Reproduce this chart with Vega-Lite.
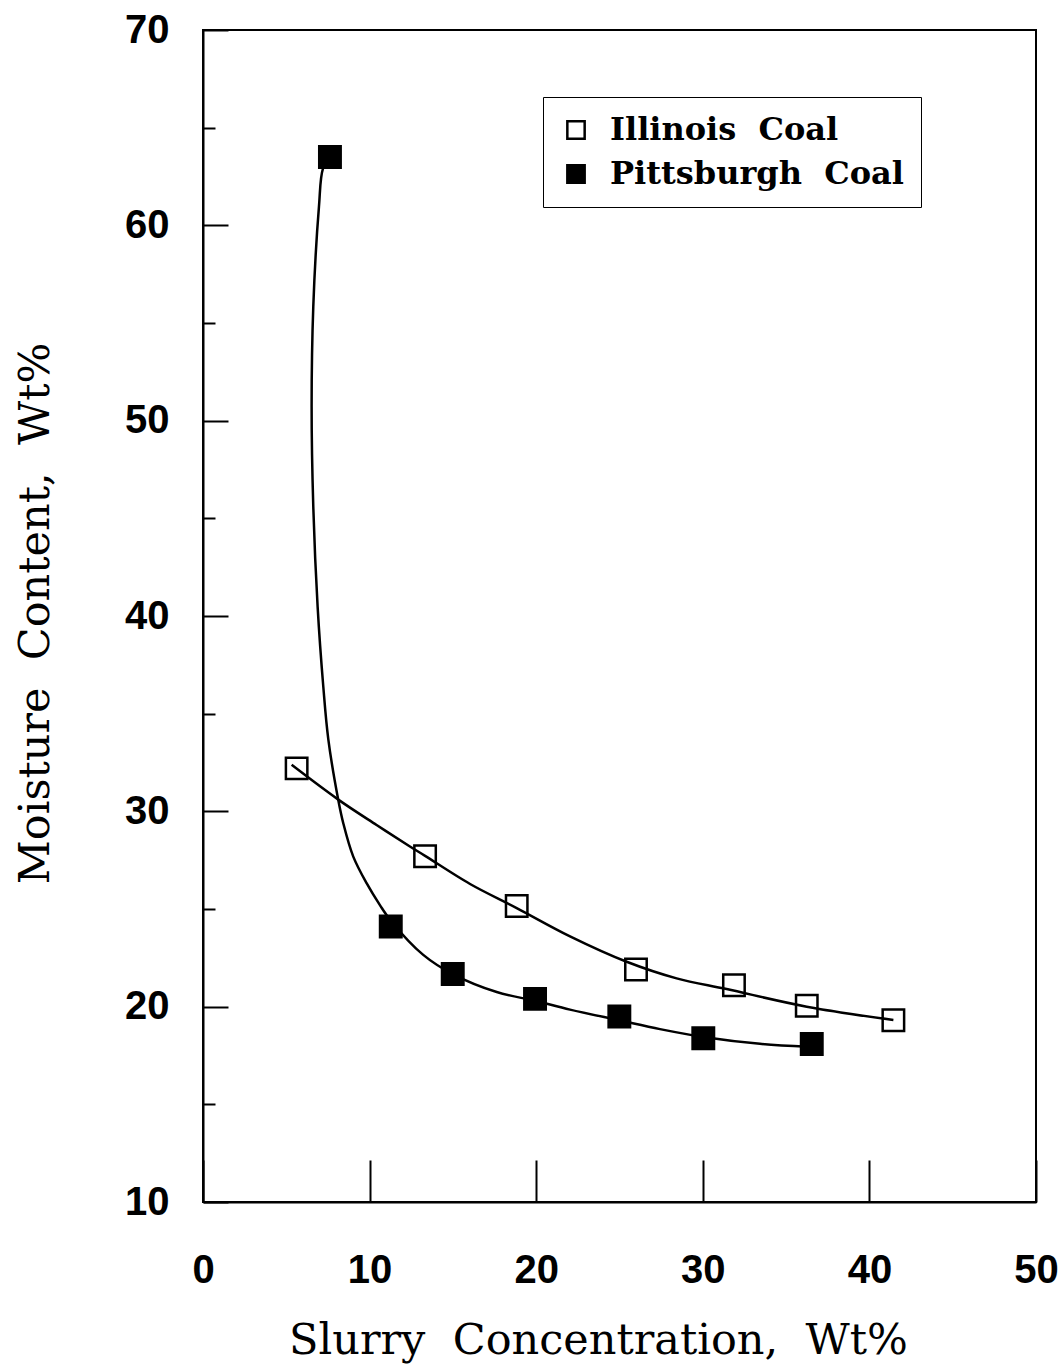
{
  "$schema": "https://vega.github.io/schema/vega-lite/v6.json",
  "width": 833,
  "height": 1172,
  "autosize": {"type": "none"},
  "padding": {"left": 203, "top": 30, "right": 27, "bottom": 162},
  "background": "white",
  "config": {
    "view": {"stroke": "black", "strokeWidth": 2},
    "axis": {
      "grid": false,
      "domainColor": "black",
      "domainWidth": 2,
      "tickColor": "black",
      "tickWidth": 2,
      "labelColor": "black",
      "titleColor": "black",
      "labelFont": "Liberation Sans",
      "labelFontWeight": "bold",
      "labelFontSize": 40,
      "titleFont": "DejaVu Serif",
      "titleFontWeight": "normal"
    }
  },
  "datasets": {
    "points": [
      {"x": 5.62, "y": 32.2, "series": "Illinois Coal"},
      {"x": 13.33, "y": 27.7, "series": "Illinois Coal"},
      {"x": 18.83, "y": 25.15, "series": "Illinois Coal"},
      {"x": 25.99, "y": 21.9, "series": "Illinois Coal"},
      {"x": 31.87, "y": 21.1, "series": "Illinois Coal"},
      {"x": 36.24, "y": 20.05, "series": "Illinois Coal"},
      {"x": 41.44, "y": 19.3, "series": "Illinois Coal"},
      {"x": 7.62, "y": 63.5, "series": "Pittsburgh Coal"},
      {"x": 11.27, "y": 24.1, "series": "Pittsburgh Coal"},
      {"x": 14.99, "y": 21.67, "series": "Pittsburgh Coal"},
      {"x": 19.93, "y": 20.4, "series": "Pittsburgh Coal"},
      {"x": 24.99, "y": 19.5, "series": "Pittsburgh Coal"},
      {"x": 30.03, "y": 18.38, "series": "Pittsburgh Coal"},
      {"x": 36.54, "y": 18.09, "series": "Pittsburgh Coal"}
    ],
    "curves": [
      {"series": "Illinois Coal", "i": 1, "x": 5.32, "y": 32.38},
      {"series": "Illinois Coal", "i": 2, "x": 8.12, "y": 30.6},
      {"series": "Illinois Coal", "i": 3, "x": 10.42, "y": 29.3},
      {"series": "Illinois Coal", "i": 4, "x": 12.42, "y": 28.2},
      {"series": "Illinois Coal", "i": 5, "x": 13.33, "y": 27.72},
      {"series": "Illinois Coal", "i": 6, "x": 16.03, "y": 26.28},
      {"series": "Illinois Coal", "i": 7, "x": 18.83, "y": 25.05},
      {"series": "Illinois Coal", "i": 8, "x": 22.03, "y": 23.6},
      {"series": "Illinois Coal", "i": 9, "x": 25.43, "y": 22.3},
      {"series": "Illinois Coal", "i": 10, "x": 28.43, "y": 21.45},
      {"series": "Illinois Coal", "i": 11, "x": 31.43, "y": 20.9},
      {"series": "Illinois Coal", "i": 12, "x": 36.24, "y": 20.0},
      {"series": "Illinois Coal", "i": 13, "x": 41.44, "y": 19.32},
      {"series": "Pittsburgh Coal", "i": 1, "x": 7.62, "y": 63.5},
      {"series": "Pittsburgh Coal", "i": 2, "x": 7.2, "y": 62.9},
      {"series": "Pittsburgh Coal", "i": 3, "x": 6.96, "y": 60.96},
      {"series": "Pittsburgh Coal", "i": 4, "x": 6.62, "y": 55.84},
      {"series": "Pittsburgh Coal", "i": 5, "x": 6.52, "y": 50.72},
      {"series": "Pittsburgh Coal", "i": 6, "x": 6.62, "y": 45.6},
      {"series": "Pittsburgh Coal", "i": 7, "x": 6.88, "y": 40.48},
      {"series": "Pittsburgh Coal", "i": 8, "x": 7.22, "y": 36.39},
      {"series": "Pittsburgh Coal", "i": 9, "x": 7.52, "y": 33.7},
      {"series": "Pittsburgh Coal", "i": 10, "x": 8.12, "y": 30.58},
      {"series": "Pittsburgh Coal", "i": 11, "x": 8.42, "y": 29.39},
      {"series": "Pittsburgh Coal", "i": 12, "x": 9.02, "y": 27.68},
      {"series": "Pittsburgh Coal", "i": 13, "x": 9.82, "y": 26.32},
      {"series": "Pittsburgh Coal", "i": 14, "x": 10.62, "y": 25.2},
      {"series": "Pittsburgh Coal", "i": 15, "x": 11.32, "y": 24.35},
      {"series": "Pittsburgh Coal", "i": 16, "x": 13.22, "y": 22.65},
      {"series": "Pittsburgh Coal", "i": 17, "x": 14.99, "y": 21.67},
      {"series": "Pittsburgh Coal", "i": 18, "x": 17.63, "y": 20.75},
      {"series": "Pittsburgh Coal", "i": 19, "x": 19.93, "y": 20.3},
      {"series": "Pittsburgh Coal", "i": 20, "x": 22.03, "y": 19.85},
      {"series": "Pittsburgh Coal", "i": 21, "x": 24.99, "y": 19.3},
      {"series": "Pittsburgh Coal", "i": 22, "x": 27.43, "y": 18.85},
      {"series": "Pittsburgh Coal", "i": 23, "x": 30.03, "y": 18.45},
      {"series": "Pittsburgh Coal", "i": 24, "x": 33.43, "y": 18.1},
      {"series": "Pittsburgh Coal", "i": 25, "x": 36.3, "y": 17.95}
    ]
  },
  "layer": [
    {
      "data": {"name": "curves"},
      "mark": {"type": "line", "color": "black", "strokeWidth": 2.5, "interpolate": "catmull-rom"},
      "encoding": {
        "x": {
          "field": "x", "type": "quantitative",
          "scale": {"domain": [0, 50], "nice": false, "zero": false},
          "axis": {
            "values": [0, 10, 20, 30, 40, 50],
            "tickSize": -42,
            "labelPadding": 90,
            "labelFlush": false,
            "title": "Slurry\u00a0\u00a0Concentration,\u00a0\u00a0Wt%",
            "titleFontSize": 43,
            "titleX": 395,
            "titleY": 151,
            "titleBaseline": "alphabetic"
          }
        },
        "y": {
          "field": "y", "type": "quantitative",
          "scale": {"domain": [10, 70], "nice": false, "zero": false},
          "axis": {
            "values": [15, 25, 35, 45, 55, 65],
            "tickSize": -12,
            "labels": false,
            "domain": false,
            "title": null,
            "orient": "left"
          }
        },
        "detail": {"field": "series"},
        "order": {"field": "i", "type": "quantitative"}
      }
    },
    {
      "data": {"name": "points"},
      "mark": {"type": "point", "shape": "square", "stroke": "black", "strokeWidth": 2.5, "size": 460, "opacity": 1},
      "encoding": {
        "x": {
          "field": "x", "type": "quantitative",
          "scale": {"domain": [0, 50], "nice": false, "zero": false},
          "axis": {
            "values": [0, 10, 20, 30, 40, 50],
            "tickSize": -42,
            "labelPadding": 90,
            "labelFlush": false,
            "title": "Slurry\u00a0\u00a0Concentration,\u00a0\u00a0Wt%",
            "titleFontSize": 43,
            "titleX": 395,
            "titleY": 151,
            "titleBaseline": "alphabetic"
          }
        },
        "y": {
          "field": "y", "type": "quantitative",
          "scale": {"domain": [10, 70], "nice": false, "zero": false},
          "axis": {
            "values": [10, 20, 30, 40, 50, 60, 70],
            "tickSize": -25,
            "labelPadding": 59,
            "labelFlush": false,
            "orient": "left",
            "title": "Moisture\u00a0\u00a0Content,\u00a0\u00a0Wt%",
            "titleFontSize": 43,
            "titleX": -168,
            "titleY": 583,
            "titleAngle": 270,
            "titleAlign": "center",
            "titleBaseline": "middle"
          }
        },
        "fill": {
          "field": "series", "type": "nominal",
          "scale": {"domain": ["Illinois Coal", "Pittsburgh Coal"], "range": ["rgba(255,255,255,0)", "black"]},
          "legend": {
            "title": null,
            "orient": "none",
            "legendX": 340,
            "legendY": 67,
            "strokeColor": "black",
            "padding": 17,
            "fillColor": "white",
            "symbolType": "square",
            "symbolSize": 300,
            "symbolStrokeColor": "black",
            "symbolStrokeWidth": 2.5,
            "labelFont": "DejaVu Serif",
            "labelFontWeight": "bold",
            "labelFontSize": 32,
            "labelColor": "black",
            "labelOffset": 18,
            "labelLimit": 500,
            "rowPadding": 12,
            "labelExpr": "datum.label === 'Illinois Coal' ? 'Illinois\u00a0\u00a0Coal' : 'Pittsburgh\u00a0\u00a0Coal'"
          }
        }
      }
    }
  ],
  "resolve": {"axis": {"y": "independent"}}
}
